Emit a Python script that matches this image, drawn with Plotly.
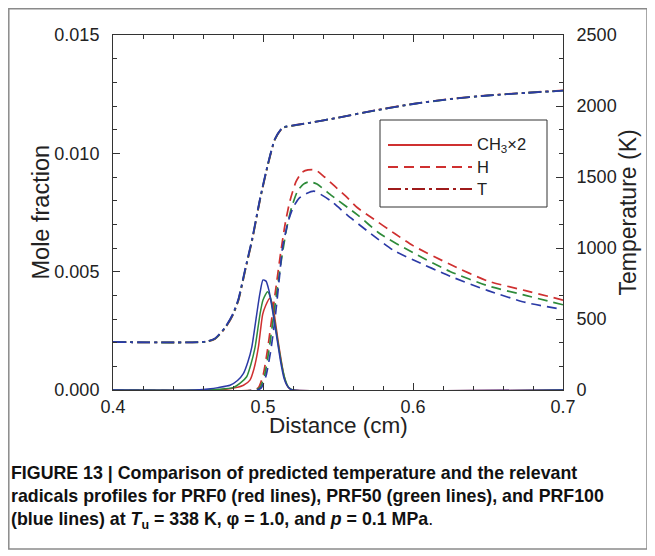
import plotly.graph_objects as go

# ---------------- data ----------------
# Temperature (K), right axis
t_x = [0.40, 0.462, 0.468, 0.475, 0.480, 0.4836, 0.488, 0.4928, 0.498, 0.5033, 0.5079,
       0.513, 0.52, 0.53, 0.55, 0.575, 0.60, 0.625, 0.65, 0.675, 0.70]
t_red = [338, 340, 360, 440, 530, 630, 835, 1055, 1338, 1586, 1763,
         1845, 1862, 1880, 1918, 1970, 2015, 2050, 2075, 2093, 2110]
t_green = [338, 340, 361, 442, 533, 634, 840, 1060, 1342, 1589, 1765,
           1846, 1862, 1880, 1918, 1969, 2014, 2049, 2074, 2092, 2108]
t_blue = [338, 341, 363, 445, 537, 640, 846, 1066, 1347, 1593, 1767,
          1847, 1863, 1880, 1918, 1969, 2014, 2049, 2074, 2092, 2108]

# CH3 x 2 mole fraction
ch3_red_x = [0.40, 0.465, 0.475, 0.482, 0.487, 0.4913, 0.494, 0.4969, 0.4998, 0.502, 0.5043,
             0.506, 0.508, 0.510, 0.512, 0.514, 0.516, 0.518, 0.52, 0.70]
ch3_red = [0, 0, 0.00003, 0.0001, 0.0002, 0.00042, 0.0009, 0.0018, 0.0032, 0.0036, 0.00387,
           0.0037, 0.0030, 0.0021, 0.0013, 0.0006, 0.0002, 0.00005, 0, 0]
ch3_green_x = [0.40, 0.46, 0.47, 0.48, 0.485, 0.4891, 0.492, 0.4947, 0.498, 0.50, 0.503,
               0.505, 0.507, 0.509, 0.511, 0.513, 0.515, 0.517, 0.52, 0.70]
ch3_green = [0, 0, 0.00003, 0.0001, 0.0003, 0.00056, 0.0011, 0.0018, 0.0032, 0.0038, 0.00415,
             0.0039, 0.0032, 0.0024, 0.0016, 0.0009, 0.0004, 0.00012, 0, 0]
ch3_blue_x = [0.40, 0.455, 0.465, 0.47, 0.478, 0.483, 0.487, 0.490, 0.4925, 0.4958, 0.498,
              0.500, 0.502, 0.504, 0.506, 0.508, 0.510, 0.512, 0.514, 0.516, 0.518, 0.52, 0.70]
ch3_blue = [0, 0, 0.00005, 0.0001, 0.0002, 0.0004, 0.0007, 0.0012, 0.0018, 0.0032, 0.0041,
            0.00465, 0.0046, 0.0042, 0.0035, 0.0027, 0.0019, 0.0011, 0.0005, 0.0002, 0.00005, 0, 0]

# H mole fraction
h_red_x = [0.40, 0.494, 0.497, 0.500, 0.503, 0.506, 0.509, 0.512, 0.515, 0.518, 0.522, 0.526,
           0.530, 0.535, 0.541, 0.548, 0.555, 0.563, 0.572, 0.588, 0.60, 0.625, 0.65, 0.675, 0.70]
h_red = [0, 0, 0.0001, 0.0006, 0.0017, 0.0031, 0.0045, 0.0059, 0.0071, 0.0080, 0.0088, 0.0092,
         0.0093, 0.0093, 0.0090, 0.0086, 0.0082, 0.0077, 0.0073, 0.0066, 0.0061, 0.0053, 0.0046, 0.0042, 0.0038]
h_green_x = [0.40, 0.495, 0.498, 0.501, 0.504, 0.507, 0.510, 0.513, 0.516, 0.519, 0.523, 0.527,
             0.531, 0.536, 0.546, 0.563, 0.578, 0.60, 0.625, 0.65, 0.675, 0.70]
h_green = [0, 0, 0.0001, 0.0006, 0.0017, 0.0031, 0.0045, 0.0058, 0.0069, 0.0077, 0.0084, 0.0087,
           0.0088, 0.0087, 0.0082, 0.0074, 0.0066, 0.0058, 0.0050, 0.0044, 0.0040, 0.0036]
h_blue_x = [0.40, 0.496, 0.499, 0.502, 0.505, 0.508, 0.511, 0.513, 0.5167, 0.520, 0.524, 0.529,
            0.534, 0.545, 0.556, 0.572, 0.587, 0.60, 0.625, 0.65, 0.675, 0.70]
h_blue = [0, 0, 0.0001, 0.0006, 0.0016, 0.0030, 0.0048, 0.0060, 0.0071, 0.0077, 0.0081, 0.0083,
          0.0084, 0.0080, 0.0074, 0.0066, 0.0059, 0.0055, 0.0048, 0.0042, 0.0037, 0.0034]

x_ticks = [0.4, 0.5, 0.6, 0.7]
x_tick_labels = ["0.4", "0.5", "0.6", "0.7"]
y_ticks = [0.0, 0.005, 0.010, 0.015]
y_tick_labels = ["0.000", "0.005", "0.010", "0.015"]
t_ticks = [0, 500, 1000, 1500, 2000, 2500]
t_tick_labels = ["0", "500", "1000", "1500", "2000", "2500"]

legend_names = ["CH<sub>3</sub>×2", "H", "T"]

caption = ("<b>FIGURE 13 | Comparison of predicted temperature and the relevant<br>"
           "radicals profiles for PRF0 (red lines), PRF50 (green lines), and PRF100<br>"
           "(blue lines) at <i>T</i><sub>u</sub> = 338 K, φ = 1.0, and <i>p</i> = 0.1 MPa</b>.")

# ---------------- styling ----------------
RED = "#cf3030"
GREEN = "#2e8b3a"
BLUE = "#2b3aa6"
DARKRED = "#9e1b1b"
FONT = "Liberation Sans, Arial, sans-serif"
DASH_H = "10px,6px"
DASH_T = "13px,4px,3px,4px"

OFF = 8                      # page body margin of the html page
W, H = 655 - OFF, 556 - OFF
L, R, T, B = 113, 563, 35, 390  # plot area in reference-picture px


def px_to_paper_x(px):
    return (px - L) / (R - L)


def px_to_paper_y(py):
    return (B - py) / (B - T)


fig = go.Figure()

for xs, ys, c in [(t_x, t_red, RED), (t_x, t_green, GREEN), (t_x, t_blue, BLUE)]:
    fig.add_trace(go.Scatter(x=xs, y=ys, mode="lines", yaxis="y2", showlegend=False,
                             line=dict(color=c, width=1.8, dash=DASH_T, shape="spline", smoothing=0.6)))

for xs, ys, c in [(h_red_x, h_red, RED), (h_green_x, h_green, GREEN), (h_blue_x, h_blue, BLUE)]:
    fig.add_trace(go.Scatter(x=xs, y=ys, mode="lines", showlegend=False,
                             line=dict(color=c, width=1.7, dash=DASH_H, shape="spline", smoothing=0.6)))

for xs, ys, c in [(ch3_red_x, ch3_red, RED), (ch3_green_x, ch3_green, GREEN), (ch3_blue_x, ch3_blue, BLUE)]:
    fig.add_trace(go.Scatter(x=xs, y=ys, mode="lines", showlegend=False,
                             line=dict(color=c, width=1.5, shape="spline", smoothing=0.6)))

axis_common = dict(showgrid=False, zeroline=False, showline=True, linecolor="#333",
                   linewidth=1, ticks="inside", tickcolor="#333", ticklen=7, tickwidth=1,
                   tickfont=dict(family=FONT, size=18, color="#222"))

fig.update_layout(
    width=W, height=H,
    margin=dict(l=L - OFF, r=W - (R - OFF), t=T - OFF, b=H - (B - OFF), pad=0),
    paper_bgcolor="white", plot_bgcolor="white",
    showlegend=False,
    xaxis=dict(range=[0.4, 0.7], tickvals=x_ticks, ticktext=x_tick_labels, mirror="ticks",
               minor=dict(dtick=0.02, ticklen=4, ticks="inside", tickcolor="#333"),
               ticklabelstandoff=0, **axis_common),
    yaxis=dict(range=[0, 0.015], tickvals=y_ticks, ticktext=y_tick_labels, mirror=True,
               minor=dict(dtick=0.001, ticklen=4, ticks="inside", tickcolor="#333"),
               ticklabelstandoff=9, **axis_common),
    yaxis2=dict(range=[0, 2500], tickvals=t_ticks, ticktext=t_tick_labels, overlaying="y",
                side="right", minor=dict(tickvals=[i * 500 / 3 for i in range(16)], ticklen=4,
                                         ticks="inside", tickcolor="#333"),
                ticklabelstandoff=9, **axis_common),
)

shapes = []
annotations = []

# outer figure border
shapes.append(dict(type="rect", xref="paper", yref="paper",
                   x0=px_to_paper_x(OFF + 0.8), x1=px_to_paper_x(647),
                   y0=px_to_paper_y(549), y1=px_to_paper_y(OFF + 0.8),
                   line=dict(color="#8a8a8a", width=1.5), fillcolor="rgba(0,0,0,0)", layer="below"))

# legend box
lx0, lx1, ly0, ly1 = 380, 547, 120, 207
shapes.append(dict(type="rect", xref="paper", yref="paper",
                   x0=px_to_paper_x(lx0), x1=px_to_paper_x(lx1),
                   y0=px_to_paper_y(ly1), y1=px_to_paper_y(ly0),
                   line=dict(color="#333", width=1), fillcolor="white", layer="above"))
rows = [145, 167, 189]
styles = [(RED, "solid", 1.8), (RED, DASH_H, 1.8), (DARKRED, DASH_T, 2.2)]
for ry, (c, d, w), name in zip(rows, styles, legend_names):
    shapes.append(dict(type="line", xref="paper", yref="paper",
                       x0=px_to_paper_x(388), x1=px_to_paper_x(472),
                       y0=px_to_paper_y(ry), y1=px_to_paper_y(ry),
                       line=dict(color=c, width=w, dash=d), layer="above"))
    annotations.append(dict(xref="paper", yref="paper", x=px_to_paper_x(475), y=px_to_paper_y(ry),
                            text=name, showarrow=False, xanchor="left", yanchor="middle",
                            font=dict(family=FONT, size=16.5, color="#222")))

# axis titles
annotations.append(dict(xref="paper", yref="paper", x=0.5, y=px_to_paper_y(425),
                        text="Distance (cm)", showarrow=False, xanchor="center", yanchor="middle",
                        font=dict(family=FONT, size=22.5, color="#222")))
annotations.append(dict(xref="paper", yref="paper", x=px_to_paper_x(40), y=0.5,
                        text="Mole fraction", showarrow=False, textangle=-90,
                        xanchor="center", yanchor="middle",
                        font=dict(family=FONT, size=23.5, color="#222")))
annotations.append(dict(xref="paper", yref="paper", x=px_to_paper_x(627), y=0.5,
                        text="Temperature (K)", showarrow=False, textangle=-90,
                        xanchor="center", yanchor="middle",
                        font=dict(family=FONT, size=23, color="#222")))

# caption
annotations.append(dict(xref="paper", yref="paper", x=px_to_paper_x(9), y=px_to_paper_y(497),
                        text=caption, showarrow=False, xanchor="left", yanchor="middle", align="left",
                        font=dict(family=FONT, size=17.8, color="#111")))

fig.update_layout(shapes=shapes, annotations=annotations)

fig.write_html("out.html")
